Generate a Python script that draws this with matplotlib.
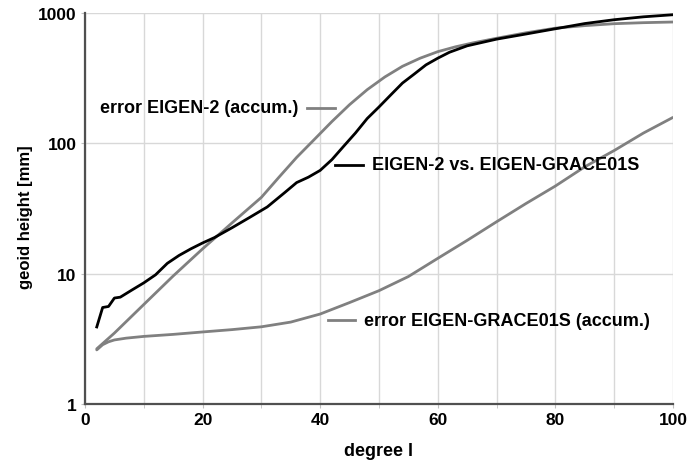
import matplotlib
matplotlib.use('Agg')
import matplotlib.pyplot as plt
from matplotlib.ticker import FixedLocator, NullLocator

# Values.
degree_diff = [2, 3, 4, 5, 6, 8, 10, 12, 14, 16, 18, 20, 22, 25, 28, 31, 34, 36, 38, 40,
               42, 44, 46, 48, 50, 52, 54, 56, 58, 60, 62, 65, 70, 75, 80, 85, 90, 95, 100]
diff_eigen2_grace = [3.9, 5.5, 5.6, 6.5, 6.6, 7.5, 8.5, 9.8, 12.0, 13.8, 15.5, 17.2, 18.9, 22.5,
                     27, 32.5, 42, 50, 55, 62, 75, 95, 120, 155, 190, 235, 290, 340, 400, 450,
                     500, 560, 630, 690, 757, 830, 888, 935, 970]

degree_err2 = [2, 5, 10, 15, 20, 25, 30, 33, 36, 39, 42, 45, 48, 51, 54, 57, 60, 63, 66,
               70, 75, 80, 85, 90, 95, 100]
error_eigen2 = [2.65, 3.5, 5.8, 9.6, 15.5, 24.5, 38.5, 55, 78, 107, 147, 198, 258, 323, 390,
                450, 505, 550, 590, 640, 705, 765, 800, 828, 843, 853]

degree_errg = [2, 3, 4, 5, 7, 10, 15, 20, 25, 30, 35, 40, 45, 50, 55, 60, 65, 70, 75, 80,
               85, 90, 95, 100]
error_grace = [2.6, 2.85, 3.0, 3.1, 3.2, 3.3, 3.42, 3.57, 3.72, 3.91, 4.25, 4.9, 6.0, 7.4,
               9.5, 13.1, 18, 25, 34.5, 47, 66, 88, 120, 158]

x_ticks = [0, 20, 40, 60, 80, 100]
y_ticks = [1, 10, 100, 1000]
y_tick_labels = ['1', '10', '100', '1000']

GRAY = '#808080'
plt.rcParams['font.family'] = ['Liberation Sans', 'DejaVu Sans']
plt.rcParams['font.weight'] = 'bold'

fig = plt.figure(figsize=(6.9, 4.64), dpi=100)
ax = fig.add_axes([0.1232, 0.1272, 0.852, 0.8426])

ax.set_yscale('log')
ax.set_xlim(0, 100)
ax.set_ylim(1, 1000)

# Grid every 10 degrees and at each decade.
ax.xaxis.set_major_locator(FixedLocator(x_ticks))
ax.xaxis.set_minor_locator(FixedLocator(list(range(10, 100, 20))))
ax.yaxis.set_major_locator(FixedLocator(y_ticks))
ax.yaxis.set_minor_locator(NullLocator())
ax.set_yticklabels(y_tick_labels)
ax.grid(True, which='both', axis='x', color='#d8d8d8', linewidth=1.0)
ax.grid(True, which='major', axis='y', color='#d8d8d8', linewidth=1.0)
ax.set_axisbelow(True)

for side in ['top', 'right']:
    ax.spines[side].set_visible(False)
for side in ['left', 'bottom']:
    ax.spines[side].set_color('#505050')
    ax.spines[side].set_linewidth(1.6)

ax.tick_params(which='both', length=3, color='#c0c0c0', labelsize=12.5, pad=3)

# Curves.
ax.plot(degree_err2, error_eigen2, color=GRAY, lw=2.0, solid_capstyle='round')
ax.plot(degree_errg, error_grace, color=GRAY, lw=2.0, solid_capstyle='round')
ax.plot(degree_diff, diff_eigen2_grace, color='black', lw=2.0)

# Inline labels with short line keys.
lbl = dict(fontsize=13, fontweight='bold', va='center')
ax.text(2.5, 188, 'error EIGEN-2 (accum.)', ha='left', **lbl)
ax.plot([37.8, 42.5], [188, 188], color=GRAY, lw=2.0)

ax.plot([42.5, 47.3], [68.6, 68.6], color='black', lw=2.0)
ax.text(48.8, 68.6, 'EIGEN-2 vs. EIGEN-GRACE01S', ha='left', **lbl)

ax.plot([41.4, 46.0], [4.4, 4.4], color=GRAY, lw=2.0)
ax.text(47.4, 4.4, 'error EIGEN-GRACE01S (accum.)', ha='left', **lbl)

ax.set_xlabel('degree l', fontsize=13, fontweight='bold', va='center')
ax.xaxis.set_label_coords(0.5, -0.12)
ax.set_ylabel('geoid height [mm]', fontsize=12, fontweight='bold', va='center')
ax.yaxis.set_label_coords(-0.102, 0.48)

fig.savefig('out.png', dpi=100)
